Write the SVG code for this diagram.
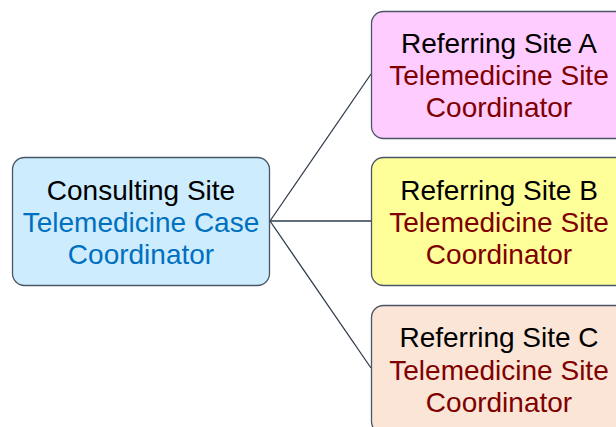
<svg xmlns="http://www.w3.org/2000/svg" width="616" height="427" viewBox="0 0 616 427">
<style>
.box{stroke:#4a5566;stroke-width:1.3}
.t{font-family:"Liberation Sans",Arial,sans-serif;font-size:28px;text-anchor:middle}
.k{fill:#000}
.b{fill:#0070c0}
.r{fill:#800000}
.c{stroke:#2e3a4e;stroke-width:1.3;fill:none}
</style>
<rect width="616" height="427" fill="#fff"/>
<g id="connectors">
<line class="c" x1="270" y1="221" x2="371" y2="74"/>
<line class="c" x1="270" y1="221" x2="371" y2="221"/>
<line class="c" x1="270" y1="221" x2="371" y2="368"/>
</g>
<g id="consulting">
<rect class="box" x="12.5" y="157.5" width="257" height="128" rx="12" fill="#cdecfe"/>
<text class="t k" x="141" y="199.5">Consulting Site</text>
<text class="t b" x="141" y="231.5">Telemedicine Case</text>
<text class="t b" x="141" y="263.5">Coordinator</text>
</g>
<g id="siteA">
<rect class="box" x="371.5" y="11.5" width="257" height="127" rx="12" fill="#ffccff"/>
<text class="t k" x="499" y="53">Referring Site A</text>
<text class="t r" x="499" y="85">Telemedicine Site</text>
<text class="t r" x="499" y="117">Coordinator</text>
</g>
<g id="siteB">
<rect class="box" x="371.5" y="157.5" width="257" height="128" rx="12" fill="#ffff99"/>
<text class="t k" x="499" y="199.5">Referring Site B</text>
<text class="t r" x="499" y="231.5">Telemedicine Site</text>
<text class="t r" x="499" y="263.5">Coordinator</text>
</g>
<g id="siteC">
<rect class="box" x="371.5" y="305.5" width="257" height="128" rx="12" fill="#fbe5d6"/>
<text class="t k" x="499" y="347">Referring Site C</text>
<text class="t r" x="499" y="379.5">Telemedicine Site</text>
<text class="t r" x="499" y="412">Coordinator</text>
</g>
</svg>
